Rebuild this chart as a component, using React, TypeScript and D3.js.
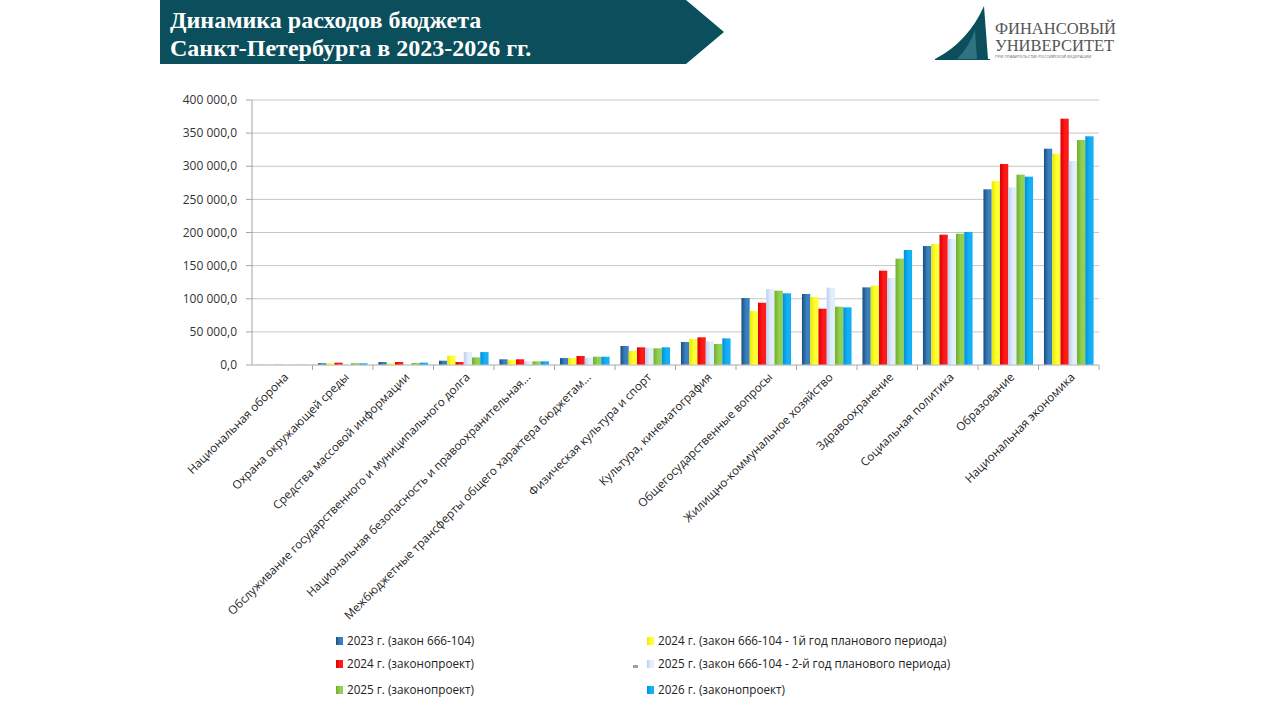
import * as d3 from "d3";
import React, { useEffect } from "react";

// расходы бюджета, млн руб.
const categories = [
  "Национальная оборона",
  "Охрана окружающей среды",
  "Средства массовой информации",
  "Обслуживание государственного и муниципального долга",
  "Национальная безопасность и правоохранительная...",
  "Межбюджетные трансферты общего характера бюджетам...",
  "Физическая культура и спорт",
  "Культура, кинематография",
  "Общегосударственные вопросы",
  "Жилищно-коммунальное хозяйство",
  "Здравоохранение",
  "Социальная политика",
  "Образование",
  "Национальная экономика",
];

const seriesNames = [
  "2023 г. (закон 666-104)",
  "2024 г. (закон 666-104 - 1й год планового периода)",
  "2024 г. (законопроект)",
  "2025 г. (закон 666-104 - 2-й год планового периода)",
  "2025 г. (законопроект)",
  "2026 г. (законопроект)",
];

const v2023 = [300, 2800, 4500, 6500, 8600, 10500, 28700, 34700, 101100, 107200, 117200, 179600, 265200, 326500];
const v2024plan = [300, 2500, 2500, 14000, 7500, 10500, 21000, 39200, 81500, 102600, 119700, 182600, 277700, 319000];
const v2024 = [300, 3500, 4500, 4500, 8600, 13600, 26700, 41800, 94000, 85000, 142400, 196700, 303400, 371800];
const v2025plan = [300, 1500, 1500, 19500, 5500, 11000, 26000, 35700, 114700, 116700, 131300, 190200, 268200, 308000];
const v2025 = [300, 2800, 3000, 11500, 5500, 12500, 25200, 31700, 112200, 88000, 160500, 198200, 287300, 339600];
const v2026 = [300, 2500, 3500, 19500, 5500, 12500, 26700, 40200, 108200, 87000, 173600, 200800, 284300, 345200];

const seriesValues = [v2023, v2024plan, v2024, v2025plan, v2025, v2026];

// [тёмный край, светлый край]
const seriesColors: [string, string][] = [
  ["#1b4f7c", "#3a7fc0"],
  ["#e8e800", "#ffff33"],
  ["#d90000", "#ff1a1a"],
  ["#b5d0ef", "#e4eefb"],
  ["#6fae2c", "#92d050"],
  ["#0090d8", "#14b0f5"],
];

const yTicks = [0, 50000, 100000, 150000, 200000, 250000, 300000, 350000, 400000];

const fmt = (v: number) => d3.format(",.1f")(v).replace(/,/g, " ").replace(".", ",");

const App: React.FC = () => {
  useEffect(() => {
    document.body.style.margin = "0";
  }, []);

  const margin = { left: 252, right: 181, top: 100, bottom: 355 };
  const width = 1280;
  const height = 720;

  const x = d3
    .scaleBand<string>()
    .domain(categories)
    .range([margin.left, width - margin.right]);

  const inner = d3
    .scaleBand<number>()
    .domain(d3.range(seriesNames.length))
    .range([x.bandwidth() * 0.09, x.bandwidth() * 0.91]);

  const y = d3
    .scaleLinear()
    .domain([0, 400000])
    .range([height - margin.bottom, margin.top]);

  const font = "'Open Sans', sans-serif";

  return (
    <svg width={width} height={height} style={{ display: "block", background: "#fff" }}>
      <defs>
        {seriesColors.map((c, i) => (
          <linearGradient key={i} id={"g" + i} x1="0" x2="1" y1="0" y2="0">
            <stop offset="0" stopColor={c[0]} />
            <stop offset="0.55" stopColor={c[1]} />
            <stop offset="1" stopColor={c[1]} />
          </linearGradient>
        ))}
      </defs>

      {/* шапка */}
      <path d="M160,0 L686,0 L724,32 L686,64 L160,64 Z" fill="#0b4f5c" />
      <text x={170} y={28} fill="#fff" fontFamily="'Liberation Serif', serif" fontWeight="bold" fontSize={24}>
        Динамика расходов бюджета
      </text>
      <text x={170} y={56} fill="#fff" fontFamily="'Liberation Serif', serif" fontWeight="bold" fontSize={24}>
        Санкт-Петербурга в 2023-2026 гг.
      </text>

      {/* логотип */}
      <g>
        <path d="M935,59 Q968,42 984,6 L988,59 Z" fill="#0b4f5c" />
        <path d="M957,59 Q969,47 975,30 L977,59 Z" fill="#2f7380" />
        <line x1={935} y1={59.5} x2={990} y2={59.5} stroke="#0b4f5c" strokeWidth={1} />
        <text x={995} y={34} fill="#555" fontFamily="'Liberation Serif', serif" fontSize={16.5}>
          ФИНАНСОВЫЙ
        </text>
        <text x={995} y={51} fill="#555" fontFamily="'Liberation Serif', serif" fontSize={16.5}>
          УНИВЕРСИТЕТ
        </text>
        <text x={995} y={58} fill="#666" fontFamily={font} fontSize={4}>
          ПРИ ПРАВИТЕЛЬСТВЕ РОССИЙСКОЙ ФЕДЕРАЦИИ
        </text>
      </g>

      {/* сетка и ось Y */}
      {yTicks.map((t) => (
        <g key={t}>
          <line x1={margin.left} x2={width - margin.right} y1={y(t)} y2={y(t)} stroke="#c6c6c6" strokeWidth={1} />
          <line x1={margin.left - 6} x2={margin.left} y1={y(t)} y2={y(t)} stroke="#a6a6a6" />
          <text
            x={margin.left - 15}
            y={y(t)}
            dy="0.35em"
            textAnchor="end"
            fontFamily={font}
            fontSize={12}
            fill="#333"
          >
            {fmt(t)}
          </text>
        </g>
      ))}
      <line x1={margin.left} x2={margin.left} y1={margin.top} y2={y(0)} stroke="#a6a6a6" />

      {/* столбцы */}
      {categories.map((c, ci) => (
        <g key={c} transform={`translate(${x(c)},0)`}>
          {seriesValues.map((vals, si) => (
            <rect
              key={si}
              x={inner(si)}
              y={y(vals[ci])}
              width={inner.bandwidth()}
              height={y(0) - y(vals[ci])}
              fill={`url(#g${si})`}
            />
          ))}
        </g>
      ))}

      {/* ось X */}
      <line x1={margin.left} x2={width - margin.right} y1={y(0)} y2={y(0)} stroke="#c6c6c6" />
      {categories.map((c) => (
        <line
          key={"t" + c}
          x1={(x(c) as number) + x.bandwidth()}
          x2={(x(c) as number) + x.bandwidth()}
          y1={y(0)}
          y2={y(0) + 5}
          stroke="#a6a6a6"
        />
      ))}
      {categories.map((c) => (
        <text
          key={"l" + c}
          transform={`translate(${(x(c) as number) + x.bandwidth() / 2 + 4},${y(0) + 10}) rotate(-45)`}
          textAnchor="end"
          dy="0.35em"
          fontFamily={font}
          fontSize={11.7}
          fill="#222"
        >
          {c}
        </text>
      ))}

      {/* легенда */}
      {seriesNames.map((s, i) => {
        const col = i % 2;
        const row = Math.floor(i / 2);
        const lx = col === 0 ? 336 : 647;
        const ly = [641, 664, 690][row];
        return (
          <g key={s}>
            {i === 3 && <rect x={633} y={ly + 1} width={5} height={3} fill="#a0a0a0" />}
            <rect x={lx} y={ly - 4} width={7} height={8} fill={`url(#g${i})`} />
            <text x={lx + 11} y={ly} dy="0.35em" fontFamily={font} fontSize={11.7} fill="#222">
              {s}
            </text>
          </g>
        );
      })}
    </svg>
  );
};

export default App;
